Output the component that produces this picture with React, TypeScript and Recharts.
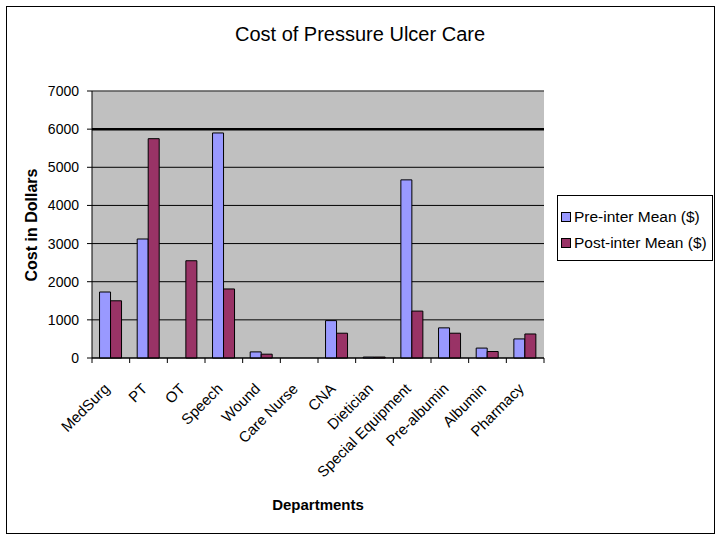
import { Bar, BarChart, CartesianGrid, ReferenceLine, XAxis, YAxis } from "recharts";

const departments = [
  "MedSurg",
  "PT",
  "OT",
  "Speech",
  "Wound",
  "Care Nurse",
  "CNA",
  "Dietician",
  "Special Equipment",
  "Pre-albumin",
  "Albumin",
  "Pharmacy"
];
const preMean = [1730, 3120, 0, 5900, 160, 0, 980, 25, 4670, 790, 260, 500];
const postMean = [1500, 5750, 2550, 1810, 100, 0, 650, 25, 1230, 650, 170, 630];
const yTicks = [0, 1000, 2000, 3000, 4000, 5000, 6000, 7000];

const PRE = "#9999FF";
const POST = "#993366";
const FONT = "'Liberation Sans', Arial, sans-serif";

const W = 720;
const H = 540;
const PLOT_LEFT = 92;
const PLOT_RIGHT = 544;
const PLOT_TOP = 91;
const PLOT_BOTTOM = 358;
const BAND = (PLOT_RIGHT - PLOT_LEFT) / departments.length;

const data = departments.map((name, i) => ({ name, pre: preMean[i], post: postMean[i] }));

function DeptTick(props: any) {
  const { x, index, payload } = props;
  const last = index === departments.length - 1;
  const ax = x - 4;
  const ay = PLOT_BOTTOM + 28;
  return (
    <g>
      <line x1={x - BAND / 2} x2={x - BAND / 2} y1={PLOT_BOTTOM} y2={PLOT_BOTTOM + 5} stroke="#000" />
      {last && <line x1={x + BAND / 2} x2={x + BAND / 2} y1={PLOT_BOTTOM} y2={PLOT_BOTTOM + 5} stroke="#000" />}
      <text
        x={ax}
        y={ay}
        transform={`rotate(-45 ${ax} ${ay})`}
        textAnchor="end"
        dy="0.35em"
        fontSize={15}
        fontFamily={FONT}
        fill="#000"
      >
        {payload.value}
      </text>
    </g>
  );
}

const legendItems = [
  { label: "Pre-inter Mean ($)", color: PRE },
  { label: "Post-inter Mean ($)", color: POST }
];

export default function App() {
  return (
    <div style={{ position: "absolute", left: 0, top: 0, width: W, height: H, background: "#fff", fontFamily: FONT }}>
      <div
        style={{
          position: "absolute",
          left: 6,
          top: 6,
          width: 709,
          height: 528,
          border: "1.5px solid #000",
          boxSizing: "border-box"
        }}
      />
      <div style={{ position: "absolute", left: 0, width: W, top: 23, textAlign: "center", fontSize: 20 }}>
        Cost of Pressure Ulcer Care
      </div>
      <div
        style={{
          position: "absolute",
          left: 32,
          top: (PLOT_TOP + PLOT_BOTTOM) / 2,
          transform: "translate(-50%, -50%) rotate(-90deg)",
          fontSize: 16,
          fontWeight: "bold",
          whiteSpace: "nowrap"
        }}
      >
        Cost in Dollars
      </div>
      <div
        style={{
          position: "absolute",
          left: PLOT_LEFT,
          width: PLOT_RIGHT - PLOT_LEFT,
          top: 496,
          textAlign: "center",
          fontSize: 15,
          fontWeight: "bold"
        }}
      >
        Departments
      </div>
      <BarChart
        width={W}
        height={H}
        data={data}
        barCategoryGap="20%"
        barGap={0}
        margin={{ top: PLOT_TOP, right: W - PLOT_RIGHT, bottom: H - PLOT_BOTTOM - 120, left: PLOT_LEFT - 60 }}
        style={{ position: "absolute", left: 0, top: 0 }}
      >
        <CartesianGrid fill="#C0C0C0" stroke="#000" vertical={false} />
        <XAxis
          dataKey="name"
          interval={0}
          height={120}
          tickLine={false}
          axisLine={{ stroke: "#000" }}
          tick={<DeptTick />}
        />
        <YAxis
          width={60}
          domain={[0, 7000]}
          ticks={yTicks}
          tickSize={5}
          tickMargin={8}
          tickLine={{ stroke: "#000" }}
          axisLine={{ stroke: "#000" }}
          tick={{ fill: "#000", fontSize: 14, fontFamily: FONT }}
        />
        <YAxis yAxisId="right" orientation="right" width={0} tick={false} tickLine={false} axisLine={{ stroke: "#808080" }} />
        <ReferenceLine y={7000} stroke="#808080" />
        <ReferenceLine y={6000} stroke="#000" strokeWidth={2.5} />
        <Bar dataKey="pre" name="Pre-inter Mean ($)" fill={PRE} stroke="#000" strokeWidth={1} isAnimationActive={false} />
        <Bar dataKey="post" name="Post-inter Mean ($)" fill={POST} stroke="#000" strokeWidth={1} isAnimationActive={false} />
      </BarChart>
      <div
        style={{
          position: "absolute",
          left: 557,
          top: 195,
          border: "1.5px solid #000",
          background: "#fff",
          width: 156,
          height: 66,
          boxSizing: "border-box",
          padding: "8px 0 0 3px",
          fontSize: 15.5,
          whiteSpace: "nowrap"
        }}
      >
        {legendItems.map((it) => (
          <div key={it.label} style={{ display: "flex", alignItems: "center", height: 26 }}>
            <span style={{ width: 8, height: 8, background: it.color, border: "1px solid #000", marginRight: 3 }} />
            <span>{it.label}</span>
          </div>
        ))}
      </div>
    </div>
  );
}
